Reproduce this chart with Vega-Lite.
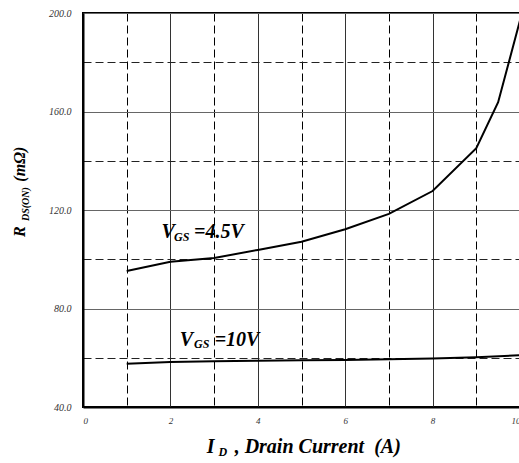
{
  "$schema": "https://vega.github.io/schema/vega-lite/v6.json",
  "width": 437,
  "height": 394,
  "autosize": {"type": "none"},
  "padding": {"left": 83, "top": 13, "right": 0, "bottom": 56},
  "background": "white",
  "config": {"view": {"stroke": "black", "strokeWidth": 2}, "font": "Liberation Serif"},
  "datasets": {
    "curves": [
      {"vgs": "4.5V", "id": 1, "r": 95.2},
      {"vgs": "4.5V", "id": 2, "r": 99.0},
      {"vgs": "4.5V", "id": 3, "r": 100.5},
      {"vgs": "4.5V", "id": 4, "r": 103.8},
      {"vgs": "4.5V", "id": 5, "r": 107.1},
      {"vgs": "4.5V", "id": 6, "r": 112.2},
      {"vgs": "4.5V", "id": 7, "r": 118.4},
      {"vgs": "4.5V", "id": 8, "r": 127.7},
      {"vgs": "4.5V", "id": 9, "r": 145.1},
      {"vgs": "4.5V", "id": 9.5, "r": 163.8},
      {"vgs": "4.5V", "id": 10, "r": 197},
      {"vgs": "10V", "id": 1, "r": 57.6},
      {"vgs": "10V", "id": 2, "r": 58.3},
      {"vgs": "10V", "id": 3, "r": 58.6},
      {"vgs": "10V", "id": 4, "r": 58.8},
      {"vgs": "10V", "id": 5, "r": 59.0},
      {"vgs": "10V", "id": 6, "r": 59.1},
      {"vgs": "10V", "id": 7, "r": 59.4},
      {"vgs": "10V", "id": 8, "r": 59.7},
      {"vgs": "10V", "id": 9, "r": 60.2},
      {"vgs": "10V", "id": 10, "r": 61.0}
    ],
    "labels": [
      {"kind": "big", "t": "V", "x": 1.794, "y": 108.5},
      {"kind": "sub", "t": "GS", "x": 2.082, "y": 107.5},
      {"kind": "big", "t": "=4.5V", "x": 2.54, "y": 108.5},
      {"kind": "big", "t": "V", "x": 2.213, "y": 64.8},
      {"kind": "sub", "t": "GS", "x": 2.54, "y": 63.8},
      {"kind": "big", "t": "=10V", "x": 3.014, "y": 64.8},
      {"kind": "big", "t": "I", "x": 2.83, "y": 21.3},
      {"kind": "sub", "t": "D", "x": 3.1, "y": 20.1},
      {"kind": "big", "t": ", Drain Current\u00a0 (A)", "x": 3.47, "y": 21.3},
      {"kind": "ybig", "t": "R", "x": -1.334, "y": 109.0},
      {"kind": "ysub", "t": "DS(ON)", "x": -1.243, "y": 115.5},
      {"kind": "ybig", "t": "(mΩ)", "x": -1.334, "y": 131.5}
    ]
  },
  "layer": [
    {
      "data": {"name": "curves"},
      "mark": {"type": "line", "color": "black", "strokeWidth": 2, "clip": true},
      "encoding": {
        "x": {
          "field": "id", "type": "quantitative",
          "scale": {"domain": [0, 10], "nice": false},
          "axis": {
            "values": [0, 1, 2, 3, 4, 5, 6, 7, 8, 9, 10],
            "title": null,
            "grid": true,
            "gridColor": {"condition": {"test": "datum.value % 2 === 1", "value": "black"}, "value": "#333333"},
            "gridDash": {"condition": {"test": "datum.value % 2 === 1", "value": [8, 4]}, "value": []},
            "gridWidth": 1,
            "ticks": false,
            "domainColor": "black",
            "domainWidth": 2,
            "labelExpr": "datum.value % 2 === 0 ? datum.label : ''",
            "labelFont": "Liberation Serif",
            "labelFontStyle": "italic",
            "labelFontSize": 9,
            "labelColor": "#333333",
            "labelPadding": 9
          }
        },
        "y": {
          "field": "r", "type": "quantitative",
          "scale": {"domain": [40, 200], "nice": false},
          "axis": {
            "values": [40, 60, 80, 100, 120, 140, 160, 180, 200],
            "format": ".1f",
            "title": null,
            "grid": true,
            "gridColor": {"condition": {"test": "datum.value % 40 === 20", "value": "#222222"}, "value": "#666666"},
            "gridDash": {"condition": {"test": "datum.value % 40 === 20", "value": [8, 4]}, "value": []},
            "gridWidth": 1,
            "ticks": false,
            "domainColor": "black",
            "domainWidth": 2,
            "labelExpr": "datum.value % 40 === 0 ? datum.label : ''",
            "labelFont": "Liberation Serif",
            "labelFontStyle": "italic",
            "labelFontSize": 10,
            "labelColor": "#333333",
            "labelPadding": 12
          }
        },
        "detail": {"field": "vgs", "type": "nominal"}
      }
    },
    {
      "data": {"name": "labels"},
      "transform": [{"filter": "datum.kind === 'big'"}],
      "mark": {"type": "text", "align": "left", "baseline": "alphabetic", "font": "Liberation Serif", "fontStyle": "italic", "fontWeight": "bold", "fontSize": 20, "color": "black"},
      "encoding": {
        "x": {"field": "x", "type": "quantitative"},
        "y": {"field": "y", "type": "quantitative"},
        "text": {"field": "t"}
      }
    },
    {
      "data": {"name": "labels"},
      "transform": [{"filter": "datum.kind === 'sub'"}],
      "mark": {"type": "text", "align": "left", "baseline": "alphabetic", "font": "Liberation Serif", "fontStyle": "italic", "fontWeight": "bold", "fontSize": 12, "color": "black"},
      "encoding": {
        "x": {"field": "x", "type": "quantitative"},
        "y": {"field": "y", "type": "quantitative"},
        "text": {"field": "t"}
      }
    },
    {
      "data": {"name": "labels"},
      "transform": [{"filter": "datum.kind === 'ybig'"}],
      "mark": {"type": "text", "align": "left", "baseline": "alphabetic", "angle": 270, "font": "Liberation Serif", "fontStyle": "italic", "fontWeight": "bold", "fontSize": 16, "color": "black"},
      "encoding": {
        "x": {"field": "x", "type": "quantitative"},
        "y": {"field": "y", "type": "quantitative"},
        "text": {"field": "t"}
      }
    },
    {
      "data": {"name": "labels"},
      "transform": [{"filter": "datum.kind === 'ysub'"}],
      "mark": {"type": "text", "align": "left", "baseline": "alphabetic", "angle": 270, "font": "Liberation Serif", "fontStyle": "italic", "fontWeight": "bold", "fontSize": 10, "color": "black"},
      "encoding": {
        "x": {"field": "x", "type": "quantitative"},
        "y": {"field": "y", "type": "quantitative"},
        "text": {"field": "t"}
      }
    }
  ]
}
